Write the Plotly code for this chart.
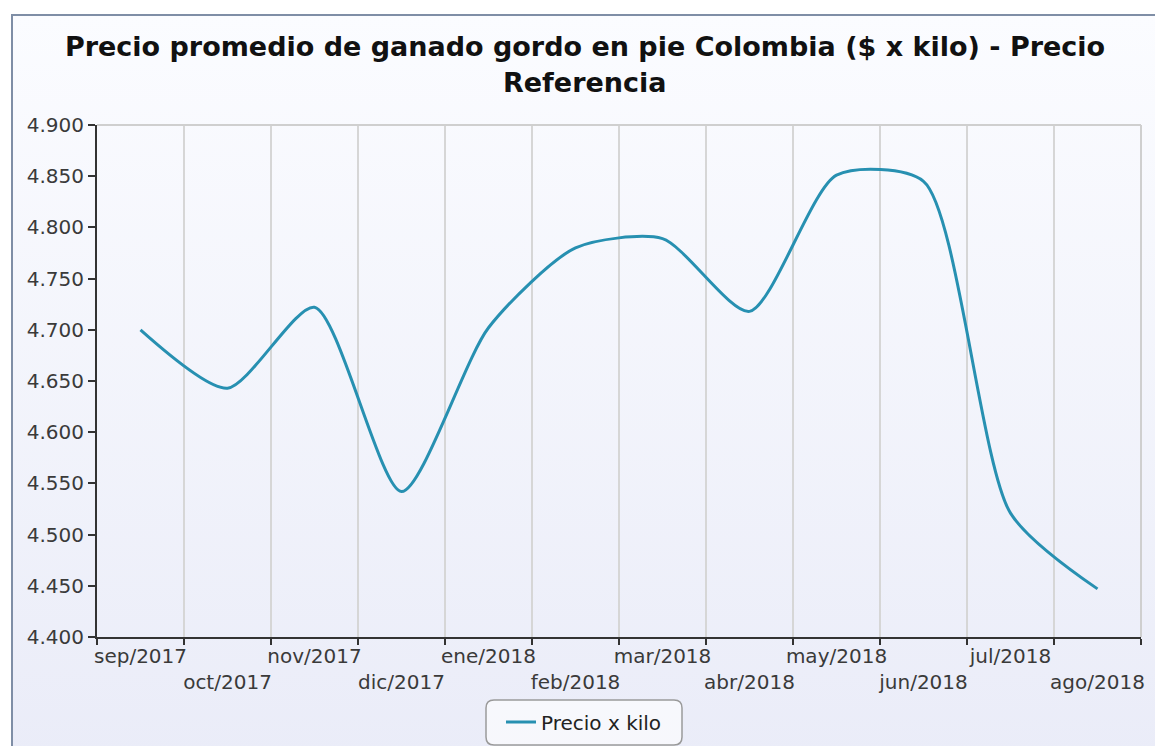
import base64
import plotly.graph_objects as go

months = ["sep/2017", "oct/2017", "nov/2017", "dic/2017", "ene/2018", "feb/2018",
          "mar/2018", "abr/2018", "may/2018", "jun/2018", "jul/2018", "ago/2018"]
precio = [4700, 4643, 4722, 4542, 4702, 4780, 4789, 4718, 4851, 4845, 4521, 4447]
y_ticks = [4400, 4450, 4500, 4550, 4600, 4650, 4700, 4750, 4800, 4850, 4900]
series_name = "Precio x kilo"
title_line1 = "Precio promedio de ganado gordo en pie Colombia ($ x kilo) - Precio"
title_line2 = "Referencia"

# page body has an 8px margin: figure is drawn from (8, 8) on screen
OFF = 8
SCR_W, SCR_H = 1163, 746
W, H = SCR_W - OFF, SCR_H - OFF
PL, PR, PT, PB = 97, 1141, 125, 637          # plot area in screen pixels
L, T = PL - OFF, PT - OFF
R, B = (W + OFF) - PR, (H + OFF) - PB
PW, PH = PR - PL, PB - PT


def px(x):
    return (x - PL) / PW


def py(y):
    return (PB - y) / PH


def cx(x):
    return (x - OFF) / W


def cy(y):
    return 1 - (y - OFF) / H


# staggered tick labels (second row for odd months)
tick_text = [m if i % 2 == 0 else "<br>" + m for i, m in enumerate(months)]

fig = go.Figure()
fig.add_trace(go.Scatter(
    x=months, y=precio, mode="lines", name=series_name,
    line=dict(color="#2790b1", width=3, shape="spline", smoothing=0.7),
    showlegend=True,
))

# background gradient
svg = ('<svg xmlns="http://www.w3.org/2000/svg" width="100" height="100" '
       'preserveAspectRatio="none"><defs><linearGradient id="g" x1="0" y1="0" x2="0" y2="1">'
       '<stop offset="0" stop-color="#fbfcff"/><stop offset="1" stop-color="#eaecf8"/>'
       '</linearGradient></defs><rect width="100" height="100" fill="url(#g)"/></svg>')
src = "data:image/svg+xml;base64," + base64.b64encode(svg.encode()).decode()

fx0, fx1, fy0, fy1 = 12, 1158, 15, 760

# rounded legend box
bx0, bx1, by0, by1, r = 486, 682, 700, 745, 8
path = (f"M {px(bx0 + r)} {py(by0)} L {px(bx1 - r)} {py(by0)} "
        f"Q {px(bx1)} {py(by0)} {px(bx1)} {py(by0 + r)} "
        f"L {px(bx1)} {py(by1 - r)} Q {px(bx1)} {py(by1)} {px(bx1 - r)} {py(by1)} "
        f"L {px(bx0 + r)} {py(by1)} Q {px(bx0)} {py(by1)} {px(bx0)} {py(by1 - r)} "
        f"L {px(bx0)} {py(by0 + r)} Q {px(bx0)} {py(by0)} {px(bx0 + r)} {py(by0)} Z")

title_font = dict(family="DejaVu Sans", size=27, color="#111111", weight="bold")

fig.update_layout(
    width=W, height=H,
    margin=dict(l=L, r=R, t=T, b=B, autoexpand=False),
    separators=",.",
    paper_bgcolor="white",
    plot_bgcolor="white",
    font=dict(family="DejaVu Sans", color="#333333"),
    title=dict(text=title_line1, x=cx(585), xanchor="center", xref="container",
               y=cy(47), yanchor="middle", yref="container", automargin=False,
               font=title_font),
    annotations=[dict(text=title_line2, xref="paper", yref="paper",
                      x=px(585), y=py(82), xanchor="center", yanchor="middle",
                      showarrow=False, font=title_font)],
    xaxis=dict(type="category", categoryorder="array", categoryarray=months,
               range=[-0.5, len(months) - 0.5], automargin=False, tickangle=0,
               tickmode="array", tickvals=months, ticktext=tick_text,
               tickson="boundaries", ticks="outside", ticklen=6, tickwidth=2,
               tickcolor="#333333",
               showgrid=True, gridcolor="#d6d6d6", gridwidth=2,
               showline=True, linecolor="#333333", linewidth=2,
               tickfont=dict(size=20, color="#3a3a3a"), fixedrange=True),
    yaxis=dict(range=[4400, 4900], tickmode="array", tickvals=y_ticks, automargin=False,
               tickformat=",d", ticks="outside", ticklen=7, tickwidth=2,
               tickcolor="#333333", showgrid=False, zeroline=False,
               showline=True, linecolor="#333333", linewidth=2,
               tickfont=dict(size=20, color="#3a3a3a"), fixedrange=True),
    legend=dict(orientation="h", x=px(584), xanchor="center",
                y=py(722), yanchor="middle",
                bgcolor="rgba(0,0,0,0)", borderwidth=0,
                font=dict(size=20, color="#222222")),
    images=[dict(source=src, xref="paper", yref="paper", x=px(fx0), y=py(fy0),
                 sizex=px(fx1) - px(fx0), sizey=py(fy0) - py(fy1),
                 xanchor="left", yanchor="top", sizing="stretch", layer="below")],
    shapes=[
        dict(type="rect", xref="paper", yref="paper", x0=px(fx0), x1=px(fx1),
             y0=py(fy1), y1=py(fy0), line=dict(color="#7f8ea6", width=2),
             fillcolor="rgba(0,0,0,0)", layer="below"),
        dict(type="line", xref="paper", yref="paper", x0=0, x1=1, y0=1, y1=1,
             line=dict(color="#cfcfcf", width=2), layer="above"),
        dict(type="line", xref="paper", yref="paper", x0=1, x1=1, y0=0, y1=1,
             line=dict(color="#cfcfcf", width=2), layer="above"),
        dict(type="path", xref="paper", yref="paper", path=path,
             line=dict(color="#9a9a9a", width=1.5), fillcolor="rgba(255,255,255,0.6)",
             layer="below"),
    ],
)

fig.write_html("out.html")
